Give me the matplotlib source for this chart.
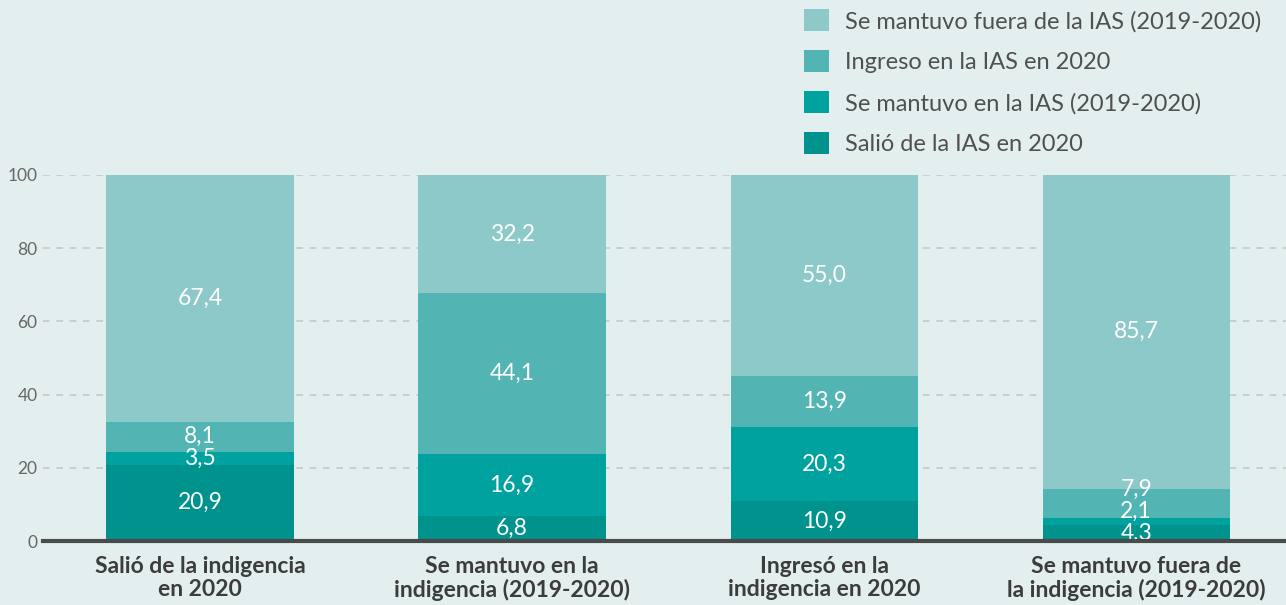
import matplotlib
matplotlib.use("Agg")
import matplotlib.pyplot as plt
from matplotlib.patches import Patch

# data (percent), stacked bottom -> top
categories = ["Salió de la indigencia\nen 2020",
              "Se mantuvo en la\nindigencia (2019-2020)",
              "Ingresó en la\nindigencia en 2020",
              "Se mantuvo fuera de\nla indigencia (2019-2020)"]
salio_ias = [20.9, 6.8, 10.9, 4.3]
mantuvo_ias = [3.5, 16.9, 20.3, 2.1]
ingreso_ias = [8.1, 44.1, 13.9, 7.9]
fuera_ias = [67.4, 32.2, 55.0, 85.7]
series_names = ["Salió de la IAS en 2020",
                "Se mantuvo en la IAS (2019-2020)",
                "Ingreso en la IAS en 2020",
                "Se mantuvo fuera de la IAS (2019-2020)"]
yticks = [0, 20, 40, 60, 80, 100]

colors = ["#00938d", "#00a29f", "#53b4b4", "#8dc9c8"]
bg = "#e3efef"

plt.rcParams["font.family"] = ["Lato", "DejaVu Sans"]

fig = plt.figure(figsize=(12.86, 6.05), dpi=100, facecolor=bg)
ax = fig.add_axes([43 / 1286, 64 / 605, 1 - 43 / 1286, 366 / 605])
ax.set_facecolor(bg)

series = [salio_ias, mantuvo_ias, ingreso_ias, fuera_ias]
x = list(range(len(categories)))
bottoms = [0.0] * len(categories)
label_pos = [[] for _ in categories]
for vals, col in zip(series, colors):
    ax.bar(x, vals, bottom=bottoms, width=0.6, color=col, zorder=3)
    for i, v in enumerate(vals):
        label_pos[i].append((bottoms[i] + v / 2, v))
    bottoms = [b + v for b, v in zip(bottoms, vals)]

# value labels, pushed apart when segments are too thin
for i, items in enumerate(label_pos):
    prev = None
    for yc, v in items:
        if prev is not None and yc - prev < 6:
            yc = prev + 6
        ax.text(i, yc, f"{v:.1f}".replace(".", ","), ha="center", va="center",
                color="white", fontsize=16.5, zorder=4)
        prev = yc

ax.set_xlim(-0.503, 3.48)
ax.set_ylim(0, 100)
ax.set_yticks(yticks)
ax.set_yticklabels([str(t) for t in yticks], color="#666666", fontsize=12.5)
ax.tick_params(axis="y", length=0, pad=4)
ax.set_xticks(x)
ax.set_xticklabels(categories, fontsize=16.5, fontweight="bold", color="#3c3c3c",
                   linespacing=1.08)
ax.tick_params(axis="x", length=0, pad=11)
ax.grid(axis="y", color="#c4c9c9", linestyle=(0, (4, 4)), linewidth=1.2, zorder=0)
for s in ["top", "right", "left"]:
    ax.spines[s].set_visible(False)
ax.spines["bottom"].set_color("#4a4a4a")
ax.spines["bottom"].set_linewidth(3)
ax.spines["bottom"].set_zorder(5)

handles = [Patch(facecolor=c, edgecolor="none") for c in colors]
leg = fig.legend(handles[::-1], series_names[::-1], loc="upper left",
                 bbox_to_anchor=(783 / 1286, 1 + 12 / 605), frameon=False,
                 fontsize=17, handlelength=1.06, handleheight=1.06,
                 handletextpad=0.68, labelspacing=0.76)
for t in leg.get_texts():
    t.set_color("#505050")

fig.savefig("out.png", dpi=100, facecolor=bg)
